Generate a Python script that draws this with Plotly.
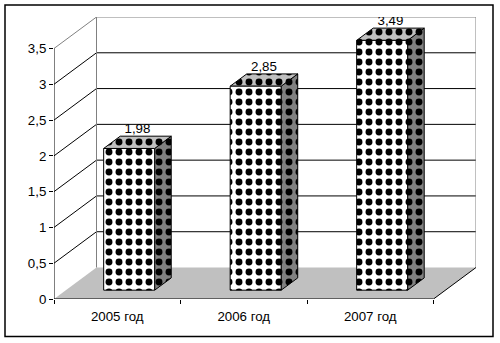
import plotly.graph_objects as go

# ---- data ----
categories = ["2005 год", "2006 год", "2007 год"]
values = [1.98, 2.85, 3.49]
y_tick_values = [0, 0.5, 1, 1.5, 2, 2.5, 3, 3.5]
y_tick_labels = ["0", "0,5", "1", "1,5", "2", "2,5", "3", "3,5"]
value_labels = [f"{v:.2f}".replace(".", ",") for v in values]

# ---- geometry / style ----
W, H = 500, 343
M_L, M_R, M_T, M_B = 54, 24, 17, 44
Y_MAX = 3.5
DEPTH_X = 0.336   # depth shift in category units
DEPTH_Y = 0.44    # depth shift in value units
BAR_W = 0.403
BAR_D0 = 0.28
BAR_DEPTH = 0.39

FONT = "Liberation Sans, Arial, sans-serif"
FS = 13.3
BLACK = "#000000"
GRAY_LINE = "#808080"
FLOOR = "#C0C0C0"
SIDE = "#808080"
TOP = "#C0C0C0"
FRONT = "#FFFFFF"

n = len(categories)
x_max = n + DEPTH_X
y_max = Y_MAX + DEPTH_Y

fig = go.Figure()


def line(xs, ys, color=BLACK, width=1):
    fig.add_trace(go.Scatter(x=xs, y=ys, mode="lines",
                             line=dict(color=color, width=width),
                             hoverinfo="skip", showlegend=False))


def poly(xs, ys, bg, pattern=True, outline=True):
    kw = {}
    if pattern:
        kw["fillpattern"] = dict(shape=".", fgcolor=BLACK, bgcolor=bg, size=10,
                                 solidity=0.38, fillmode="replace")
    fig.add_trace(go.Scatter(x=xs + [xs[0]], y=ys + [ys[0]], mode="lines",
                             fill="toself", fillcolor=bg,
                             line=dict(color=BLACK if outline else bg,
                                       width=1 if outline else 0),
                             hoverinfo="skip", showlegend=False, **kw))


# floor
poly([0, DEPTH_X, n + DEPTH_X, n], [0, DEPTH_Y, DEPTH_Y, 0], FLOOR,
     pattern=False, outline=False)

# back-wall gridlines and side-wall diagonals
for lv in y_tick_values[1:]:
    col = GRAY_LINE if lv == Y_MAX else BLACK
    line([DEPTH_X, n + DEPTH_X], [lv + DEPTH_Y, lv + DEPTH_Y], col)
    line([0, DEPTH_X], [lv, lv + DEPTH_Y], col)

# back wall vertical edges
line([DEPTH_X, DEPTH_X], [DEPTH_Y, Y_MAX + DEPTH_Y], GRAY_LINE)
line([n + DEPTH_X, n + DEPTH_X], [DEPTH_Y, Y_MAX + DEPTH_Y], GRAY_LINE)

# floor right edge
line([n, n + DEPTH_X], [0, DEPTH_Y], BLACK)

# front axes
line([0, 0], [0, Y_MAX], BLACK)
line([0, n], [0, 0], BLACK)

# bars
lab_x, lab_y = [], []
for i, v in enumerate(values):
    xl = i + 0.5 - BAR_W / 2 + BAR_D0 * DEPTH_X
    xr = xl + BAR_W
    yb = BAR_D0 * DEPTH_Y
    yt = v + yb
    dx = BAR_DEPTH * DEPTH_X
    dy = BAR_DEPTH * DEPTH_Y
    # side face
    poly([xr, xr + dx, xr + dx, xr], [yb, yb + dy, yt + dy, yt], SIDE)
    # top face
    poly([xl, xr, xr + dx, xl + dx], [yt, yt, yt + dy, yt + dy], TOP)
    # front face
    poly([xl, xr, xr, xl], [yb, yb, yt, yt], FRONT)
    lab_x.append((xl + xr) / 2 + dx / 2)
    lab_y.append(yt + dy)

fig.add_trace(go.Scatter(x=lab_x, y=lab_y, mode="text", text=value_labels,
                         textposition="top center",
                         textfont=dict(family=FONT, size=FS, color=BLACK),
                         hoverinfo="skip", showlegend=False))

plot_w = W - M_L - M_R
plot_h = H - M_T - M_B
bottom_px = H - M_B


def px_x(p):
    return (p - M_L) / plot_w


def px_y(p):
    return (bottom_px - p) / plot_h


fig.add_shape(type="rect", xref="paper", yref="paper",
              x0=px_x(5), x1=px_x(493), y0=px_y(336.5), y1=px_y(5),
              line=dict(color=BLACK, width=1.5), fillcolor="rgba(0,0,0,0)",
              layer="above")

fig.update_layout(
    width=W, height=H, autosize=False,
    margin=dict(l=M_L, r=M_R, t=M_T, b=M_B, pad=0),
    paper_bgcolor="white", plot_bgcolor="white",
    font=dict(family=FONT, size=FS, color=BLACK),
    showlegend=False,
    xaxis=dict(range=[0, x_max], showgrid=False, zeroline=False, showline=False,
               tickmode="array", tickvals=[i + 0.5 for i in range(n)],
               ticktext=categories, ticks="", ticklabelstandoff=8,
               minor=dict(tick0=0, dtick=1, ticks="outside", ticklen=4,
                          tickcolor=BLACK, tickwidth=1),
               fixedrange=True),
    yaxis=dict(range=[0, y_max], showgrid=False, zeroline=False, showline=False,
               tickmode="array", tickvals=y_tick_values, ticktext=y_tick_labels,
               ticks="outside", ticklen=4, tickcolor=BLACK, tickwidth=1,
               fixedrange=True),
)

fig.write_html("out.html")
